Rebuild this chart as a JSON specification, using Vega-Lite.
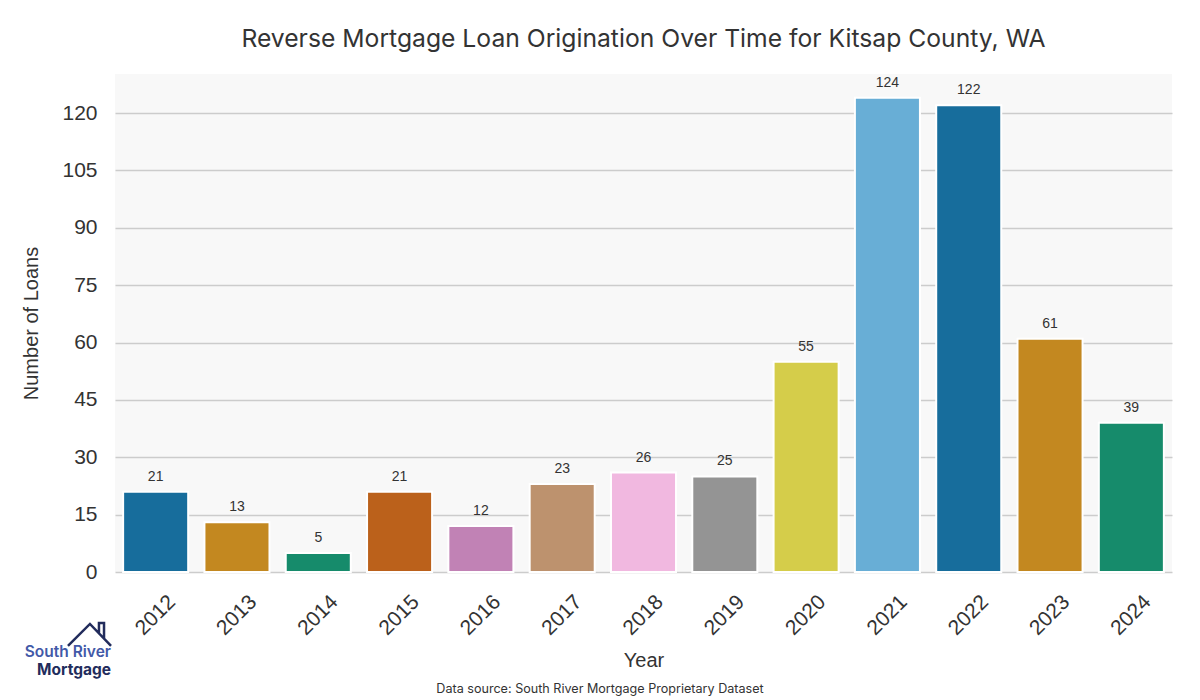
{
  "$schema": "https://vega.github.io/schema/vega-lite/v6.json",
  "width": 1057,
  "height": 498,
  "autosize": {"type": "none"},
  "padding": {"left": 115, "top": 74, "right": 28, "bottom": 128},
  "background": "white",
  "config": {
    "view": {"fill": "#f8f8f8", "stroke": null}
  },
  "title": {
    "text": "Reverse Mortgage Loan Origination Over Time for Kitsap County, WA",
    "font": "Inter",
    "fontSize": 24.7,
    "fontWeight": "normal",
    "color": "#333333",
    "anchor": "middle",
    "offset": 22
  },
  "data": {
    "values": [
      {"year": "2012", "loans": 21},
      {"year": "2013", "loans": 13},
      {"year": "2014", "loans": 5},
      {"year": "2015", "loans": 21},
      {"year": "2016", "loans": 12},
      {"year": "2017", "loans": 23},
      {"year": "2018", "loans": 26},
      {"year": "2019", "loans": 25},
      {"year": "2020", "loans": 55},
      {"year": "2021", "loans": 124},
      {"year": "2022", "loans": 122},
      {"year": "2023", "loans": 61},
      {"year": "2024", "loans": 39}
    ]
  },
  "encoding": {
    "x": {
      "field": "year",
      "type": "ordinal",
      "scale": {"paddingInner": 0.2, "paddingOuter": 0.1},
      "axis": {
        "title": "Year",
        "titleFont": "Liberation Sans",
        "titleFontSize": 20,
        "titleFontWeight": "normal",
        "titleColor": "#333333",
        "titlePadding": 12,
        "labelFont": "Liberation Sans",
        "labelFontSize": 21,
        "labelColor": "#333333",
        "labelAngle": -45,
        "labelAlign": "center",
        "labelBaseline": "middle",
        "labelPadding": 43,
        "ticks": false,
        "domain": false,
        "grid": false
      }
    },
    "y": {
      "field": "loans",
      "type": "quantitative",
      "scale": {"domain": [0, 130.2], "nice": false, "zero": true},
      "axis": {
        "title": "Number of Loans",
        "titleFont": "Liberation Sans",
        "titleFontSize": 20,
        "titleFontWeight": "normal",
        "titleColor": "#333333",
        "titlePadding": 20,
        "values": [0, 15, 30, 45, 60, 75, 90, 105, 120],
        "labelFont": "Liberation Sans",
        "labelFontSize": 21,
        "labelColor": "#333333",
        "labelPadding": 18,
        "ticks": false,
        "domain": false,
        "grid": true,
        "gridColor": "#cccccc",
        "gridWidth": 1.6
      }
    }
  },
  "layer": [
    {
      "mark": {"type": "bar", "stroke": "white", "strokeWidth": 2},
      "encoding": {
        "color": {
          "field": "year",
          "type": "nominal",
          "scale": {
            "range": ["#176d9c", "#c38820", "#168b6b", "#bb611b", "#c182b5", "#bd926e", "#f1b8e0", "#949494", "#d5cd4a", "#68aed6", "#176d9c", "#c38820", "#168b6b"]
          },
          "legend": null
        }
      }
    },
    {
      "mark": {"type": "text", "baseline": "alphabetic", "dy": -11, "font": "Liberation Sans", "fontSize": 14, "color": "#333333"},
      "encoding": {"text": {"field": "loans", "type": "quantitative"}}
    },
    {
      "data": {"values": [{"label": "Data source: South River Mortgage Proprietary Dataset"}]},
      "mark": {"type": "text", "font": "Inter", "fontSize": 12.6, "color": "#333333", "align": "center", "baseline": "alphabetic"},
      "encoding": {"x": {"value": 485}, "y": {"value": 619}, "text": {"field": "label"}}
    },
    {
      "data": {"values": [{"label": "South River"}]},
      "mark": {"type": "text", "font": "Inter", "fontSize": 15.5, "fontWeight": 600, "color": "#4259a8", "align": "right", "baseline": "alphabetic"},
      "encoding": {"x": {"value": -4}, "y": {"value": 583}, "text": {"field": "label"}}
    },
    {
      "data": {"values": [{"label": "Mortgage"}]},
      "mark": {"type": "text", "font": "Inter", "fontSize": 15.5, "fontWeight": 700, "color": "#222c5c", "align": "right", "baseline": "alphabetic"},
      "encoding": {"x": {"value": -4}, "y": {"value": 601}, "text": {"field": "label"}}
    },
    {
      "data": {"values": [{"label": "house"}]},
      "mark": {
        "type": "point",
        "shape": "M -0.98 0.52 L 0.02 -0.48 L 0.98 0.52 M 0.43 -0.05 L 0.43 -0.52 L 0.66 -0.52 L 0.66 0.2",
        "filled": false,
        "stroke": "#222c5c",
        "strokeWidth": 2.5,
        "size": 1936,
        "opacity": 1
      },
      "encoding": {"x": {"value": -25.5}, "y": {"value": 560.5}}
    }
  ]
}
